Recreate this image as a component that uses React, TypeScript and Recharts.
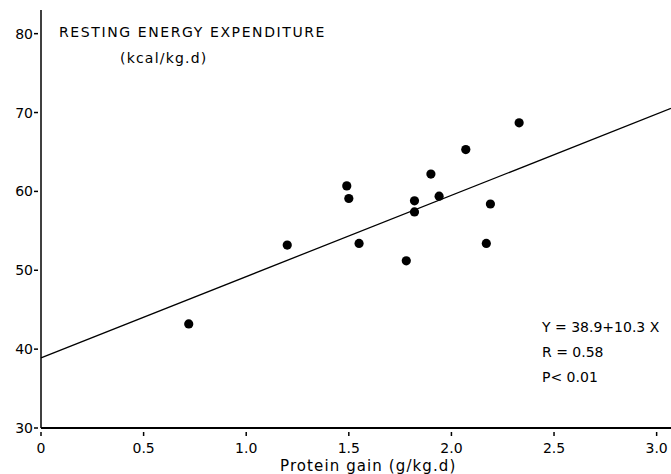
import { ScatterChart, Scatter, XAxis, YAxis, ReferenceLine } from 'recharts';

// protein gain (g/kg.d) vs resting energy expenditure (kcal/kg.d)
const proteinGain = [0.72, 1.2, 1.49, 1.5, 1.55, 1.78, 1.82, 1.82, 1.9, 1.94, 2.07, 2.17, 2.19, 2.33];
const energy = [43.2, 53.2, 60.7, 59.1, 53.4, 51.2, 58.8, 57.4, 62.2, 59.4, 65.3, 53.4, 58.4, 68.7];

const xTicks = [0, 0.5, 1.0, 1.5, 2.0, 2.5, 3.0];
const yTicks = [30, 40, 50, 60, 70, 80];

// printed regression: Y = 38.9 + 10.3 X
const intercept = 38.9;
const slope = 10.3;
const xMax = 3.07;

const points = proteinGain.map((x, i) => ({ x, y: energy[i] }));

const font = '"DejaVu Sans", sans-serif';

const Dot = (props: any) => <circle cx={props.cx} cy={props.cy} r={4.6} fill="#000" />;

const XTick = ({ x, y, payload }: any) => (
  <g>
    <line x1={x} x2={x} y1={y - 4} y2={y} stroke="#000" strokeWidth={1.5} />
    <text x={x} y={y + 17} textAnchor="middle" fontFamily={font} fontSize={14} fill="#000">
      {payload.value === 0 ? '0' : payload.value.toFixed(1)}
    </text>
  </g>
);

const YTick = ({ x, y, payload }: any) => (
  <g>
    <line x1={x + 1} x2={x + 5} y1={y} y2={y} stroke="#000" strokeWidth={1.5} />
    <text x={x} y={y + 5} textAnchor="end" fontFamily={font} fontSize={14} fill="#000">
      {payload.value}
    </text>
  </g>
);

const txt: React.CSSProperties = {
  position: 'absolute',
  fontFamily: font,
  fontSize: 14,
  color: '#000',
  whiteSpace: 'nowrap',
  lineHeight: '16px',
};

export default function App() {
  return (
    <div style={{ position: 'absolute', left: 0, top: 0, width: 671, height: 474, background: '#fff' }}>
      <ScatterChart width={671} height={474} margin={{ top: 10, right: 0, bottom: 0, left: 0 }}>
        <XAxis
          type="number"
          dataKey="x"
          domain={[0, xMax]}
          ticks={xTicks}
          tick={<XTick />}
          tickLine={false}
          height={46}
          axisLine={{ stroke: '#000', strokeWidth: 2 }}
          allowDataOverflow
        />
        <YAxis
          type="number"
          dataKey="y"
          domain={[30, 83]}
          ticks={yTicks}
          tick={<YTick />}
          tickLine={false}
          width={41}
          axisLine={{ stroke: '#000', strokeWidth: 1.5 }}
          allowDataOverflow
        />
        <ReferenceLine
          segment={[
            { x: 0, y: intercept },
            { x: xMax, y: intercept + slope * xMax },
          ]}
          stroke="#000"
          strokeWidth={1.3}
          ifOverflow="visible"
        />
        <Scatter data={points} shape={<Dot />} isAnimationActive={false} />
      </ScatterChart>
      <div style={{ ...txt, left: 59, top: 24, letterSpacing: 1.6 }}>RESTING ENERGY EXPENDITURE</div>
      <div style={{ ...txt, left: 120, top: 50, letterSpacing: 1.2 }}>(kcal/kg.d)</div>
      <div style={{ ...txt, left: 542, top: 319 }}>Y = 38.9+10.3 X</div>
      <div style={{ ...txt, left: 542, top: 344 }}>R = 0.58</div>
      <div style={{ ...txt, left: 542, top: 369 }}>P&lt; 0.01</div>
      <div style={{ ...txt, left: 280, top: 458, fontSize: 15, letterSpacing: 1.1 }}>Protein gain (g/kg.d)</div>
    </div>
  );
}
